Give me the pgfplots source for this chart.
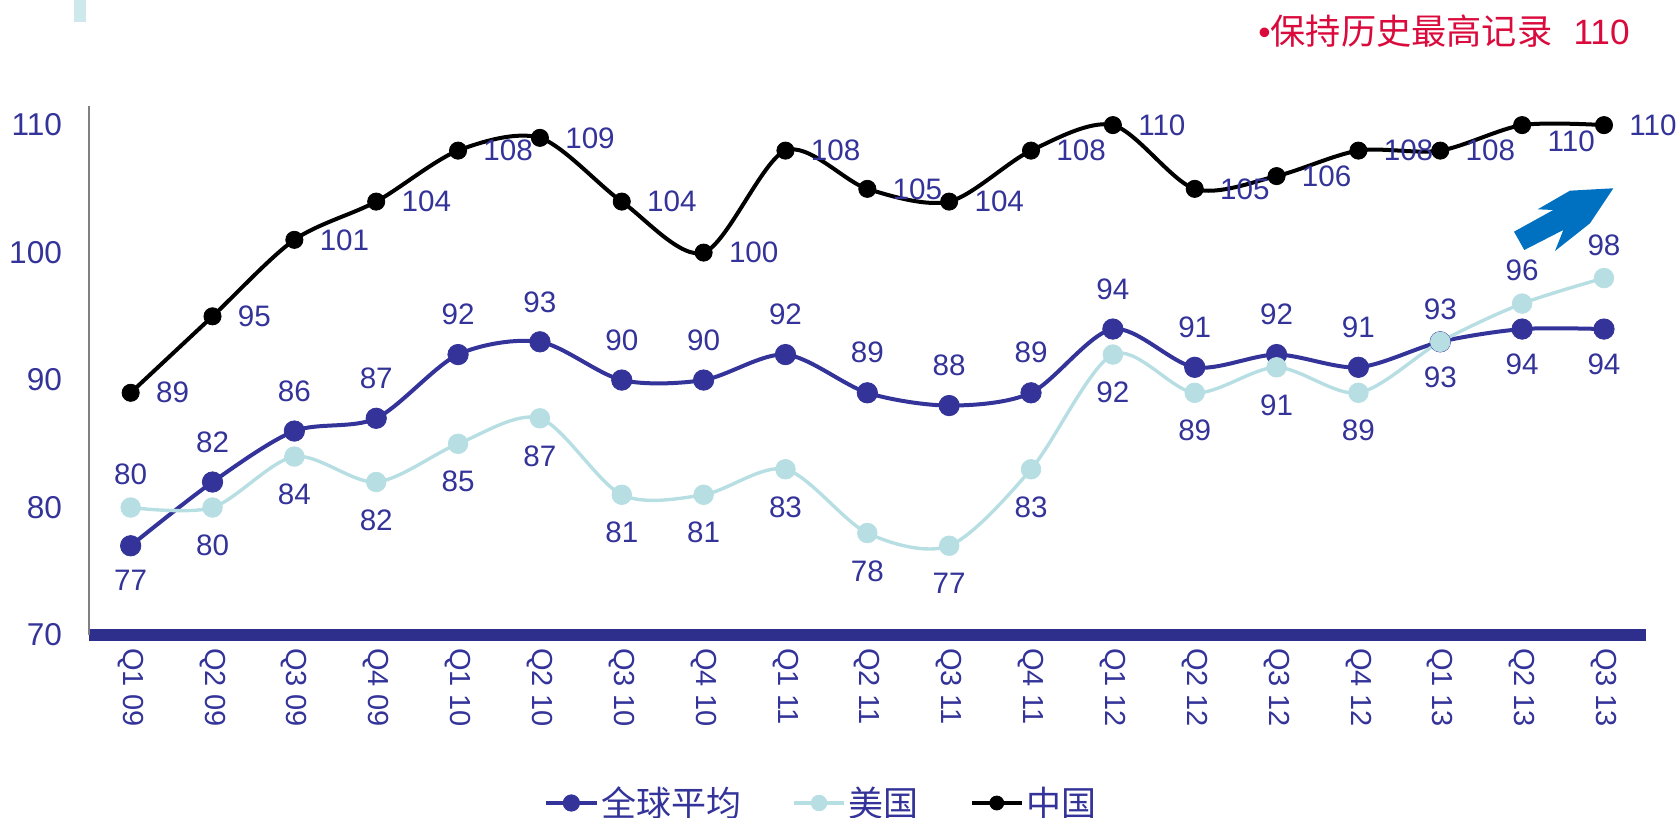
\documentclass[border=0pt]{standalone}
\usepackage{pgfplots}
\pgfplotsset{compat=1.18}
\usepackage{fontspec}
\setmainfont{Liberation Sans}
\newfontfamily\cjk{Noto Sans CJK SC}
\definecolor{tblue}{RGB}{51,51,153}
\definecolor{gblue}{RGB}{51,51,153}
\definecolor{usc}{RGB}{183,223,227}
\definecolor{axblue}{RGB}{46,46,140}
\definecolor{redt}{RGB}{218,10,60}
\definecolor{arrowc}{RGB}{0,112,192}
\definecolor{grayax}{RGB}{128,128,128}
\begin{document}
\begin{tikzpicture}
\begin{axis}[
  at={(44.5pt,91.5pt)}, anchor=south west,
  scale only axis, width=778.35pt, height=264.5pt,
  xmin=-0.509, xmax=18.51, ymin=70, ymax=111.5,
  axis x line*=bottom, axis y line*=left,
  x axis line style={-, line width=6pt, color=axblue},
  y axis line style={-, line width=0.6pt, color=grayax},
  xtick={0,...,18},
  xticklabels={Q1 09,Q2 09,Q3 09,Q4 09,Q1 10,Q2 10,Q3 10,Q4 10,Q1 11,Q2 11,Q3 11,Q4 11,Q1 12,Q2 12,Q3 12,Q4 12,Q1 13,Q2 13,Q3 13},
  ytick={70,80,90,100,110},
  major tick length=0pt,
  tick label style={font=\fontsize{15.8}{18}\selectfont, text=tblue},
  x tick label style={rotate=-90, anchor=west, font=\fontsize{14.5}{17}\selectfont},
  xticklabel shift=3pt, yticklabel shift=10pt,
  /pgf/number format/assume math mode=true,
  clip=false,
  every node near coord/.append style={font=\fontsize{14.8}{17}\selectfont, text=tblue, inner sep=0pt},
  legend style={at={(0.4709,-0.3176)}, anchor=center, draw=none, fill=none,
    legend columns=3, font=\cjk\fontsize{17.5}{20}\selectfont, text=tblue,
    /tikz/every even column/.append style={column sep=24pt},
    inner sep=0pt, nodes={inner sep=1.5pt}},
  legend image code/.code={\draw[mark repeat=2,mark phase=2,#1] plot coordinates {(0pt,0pt)(12.5pt,0pt)(25pt,0pt)};},
]
% global average
\addplot[color=gblue, line width=2pt, smooth, mark=*, mark size=5.1pt,
  mark options={solid, fill=gblue, draw=gblue, line width=0.4pt},
  legend image post style={mark size=4.1pt}]
  coordinates {(0,77)(1,82)(2,86)(3,87)(4,92)(5,93)(6,90)(7,90)(8,92)(9,89)(10,88)(11,89)(12,94)(13,91)(14,92)(15,91)(16,93)(17,94)(18,94)};
% USA
\addplot[color=usc, line width=1.7pt, smooth, mark=*, mark size=4.9pt,
  mark options={solid, fill=usc, draw=usc, line width=0.4pt},
  legend image post style={mark size=3.9pt}]
  coordinates {(0,80)(1,80)(2,84)(3,82)(4,85)(5,87)(6,81)(7,81)(8,83)(9,78)(10,77)(11,83)(12,92)(13,89)(14,91)(15,89)(16,93)(17,96)(18,98)};
% China
\addplot[color=black, line width=2pt, smooth, mark=*, mark size=4.3pt,
  mark options={solid, fill=black, draw=black, line width=0.4pt},
  legend image post style={mark size=3.5pt}]
  coordinates {(0,89)(1,95)(2,101)(3,104)(4,108)(5,109)(6,104)(7,100)(8,108)(9,105)(10,104)(11,108)(12,110)(13,105)(14,106)(15,108)(16,108)(17,110)(18,110)};
\legend{全球平均,美国,中国}
% labels
\addplot[draw=none, forget plot, nodes near coords, nodes near coords style={anchor=center, yshift=20pt}]
  coordinates {(1,82)(2,86)(3,87)(4,92)(5,93)(6,90)(7,90)(8,92)(9,89)(10,88)(11,89)(12,94)(13,91)(14,92)(15,91)};
\addplot[draw=none, forget plot, nodes near coords, nodes near coords style={anchor=center, yshift=-17.5pt}]
  coordinates {(0,77)(16,93)(17,94)(18,94)};
\addplot[draw=none, forget plot, nodes near coords, nodes near coords style={anchor=center, yshift=16.5pt}]
  coordinates {(0,80)(16,93)(17,96)(18,98)};
\addplot[draw=none, forget plot, nodes near coords, nodes near coords style={anchor=center, yshift=-19pt}]
  coordinates {(1,80)(2,84)(3,82)(4,85)(5,87)(6,81)(7,81)(8,83)(9,78)(10,77)(11,83)(12,92)(13,89)(14,91)(15,89)};
\addplot[draw=none, forget plot, nodes near coords, nodes near coords style={anchor=west, xshift=12.5pt}]
  coordinates {(0,89)(1,95)(2,101)(3,104)(4,108)(5,109)(6,104)(7,100)(8,108)(9,105)(10,104)(11,108)(12,110)(13,105)(14,106)(15,108)(16,108)(18,110)};
\addplot[draw=none, forget plot, nodes near coords, nodes near coords style={anchor=west, xshift=12.5pt, yshift=-8pt}]
  coordinates {(17,110)};
\end{axis}
\node[anchor=base east, inner sep=0pt, text=redt, font=\fontsize{17.6}{21}\selectfont] at (815pt,386.5pt) {•{\cjk 保持历史最高记录}\hspace{0.6em}110};
\fill[arrowc] (757.0pt,293.15pt) -- (776.65pt,304.0pt) -- (768.85pt,304.35pt) -- (785.0pt,313.65pt) -- (806.65pt,314.85pt) -- (795.0pt,297.35pt) -- (777.5pt,283.5pt) -- (781.65pt,294.0pt) -- (762.15pt,284.0pt) -- cycle;
\fill[usc!70] (37pt,398pt) rectangle (43pt,409pt);
\pgfresetboundingbox
\path[use as bounding box] (0,0) rectangle (840pt,409pt);
\end{tikzpicture}
\end{document}
